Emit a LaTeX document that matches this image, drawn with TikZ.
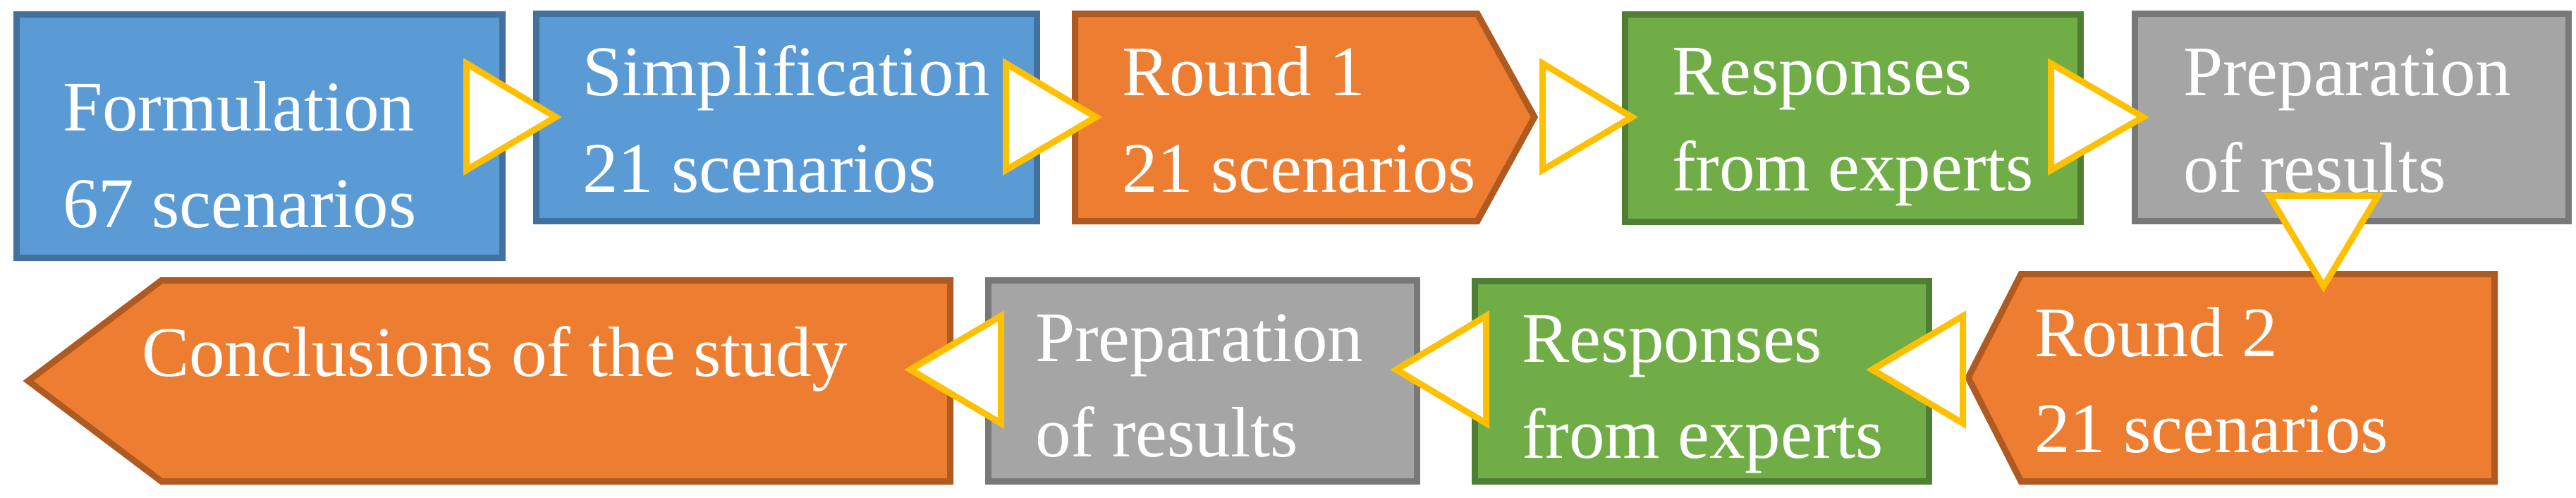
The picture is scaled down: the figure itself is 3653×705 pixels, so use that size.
\documentclass[tikz,border=0pt]{standalone}
\usepackage{fontspec}
\setmainfont{Liberation Serif}
\definecolor{bfill}{HTML}{5B9BD5}
\definecolor{bline}{HTML}{41719C}
\definecolor{ofill}{HTML}{ED7D31}
\definecolor{oline}{HTML}{AE5A21}
\definecolor{gfill}{HTML}{70AD47}
\definecolor{gline}{HTML}{507E32}
\definecolor{yfill}{HTML}{A5A5A5}
\definecolor{yline}{HTML}{787878}
\definecolor{arr}{HTML}{FFC000}
\tikzset{
  bluebox/.style={fill=bfill,draw=bline,line width=2.56pt,line join=miter},
  orangebox/.style={fill=ofill,draw=oline,line width=2.56pt,line join=miter},
  greenbox/.style={fill=gfill,draw=gline,line width=2.56pt,line join=miter},
  graybox/.style={fill=yfill,draw=yline,line width=2.56pt,line join=miter},
  tri/.style={fill=white,draw=arr,line width=2.56pt,line join=miter,miter limit=10},
  lbl/.style={anchor=base west,inner sep=0,outer sep=0,text=white,font=\fontsize{28.7}{38}\selectfont}
}
\begin{document}
\begin{tikzpicture}[x=0.01cm,y=-0.01cm]
\useasboundingbox (0,0) rectangle (3653,705);
% boxes
\draw[bluebox] (23.5,20.5) rectangle (712.5,365.5);
\draw[bluebox] (760.5,19.5) rectangle (1470.5,313.5);
\draw[orangebox] (1524.5,19.5) -- (2095,19.5) -- (2176,166) -- (2095,313.5) -- (1524.5,313.5) -- cycle;
\draw[greenbox] (2304.5,20.5) rectangle (2950.5,314.5);
\draw[graybox] (3027.5,19.5) rectangle (3642.5,313.5);
\draw[orangebox] (2791,535.5) -- (2866,388.5) -- (3537.5,388.5) -- (3537.5,682.5) -- (2866,682.5) -- cycle;
\draw[greenbox] (2091.5,398.5) rectangle (2735.5,682.5);
\draw[graybox] (1401.5,397.5) rectangle (2009.5,682.5);
\draw[orangebox] (40,540) -- (229,397.5) -- (1347.5,397.5) -- (1347.5,682.5) -- (229,682.5) -- cycle;
% texts
\node[lbl] (t1a) at (89,185) {Formulation};
\node[lbl] (t1b) at (89,322) {67 scenarios};
\node[lbl] (t2a) at (826,135) {Simplification};
\node[lbl] (t2b) at (826,272) {21 scenarios};
\node[lbl] (t3a) at (1591,135) {Round 1};
\node[lbl] (t3b) at (1591,272) {21 scenarios};
\node[lbl] (t4a) at (2371,134) {Responses};
\node[lbl] (t4b) at (2371,270) {from experts};
\node[lbl] (t5a) at (3096,135) {Preparation};
\node[lbl] (t5b) at (3096,272) {of results};
\node[lbl] (t6a) at (2885,505) {Round 2};
\node[lbl] (t6b) at (2885,641) {21 scenarios};
\node[lbl] (t7a) at (2158,513) {Responses};
\node[lbl] (t7b) at (2158,649) {from experts};
\node[lbl] (t8a) at (1468,512) {Preparation};
\node[lbl] (t8b) at (1468,647) {of results};
\node[lbl] (t9) at (201,533) {Conclusions of the study};
% arrows
\draw[tri] (661.5,90) -- (788,166) -- (661.5,241) -- cycle;
\draw[tri] (1426.5,90) -- (1554,166) -- (1426.5,241) -- cycle;
\draw[tri] (2187.5,90) -- (2314,166) -- (2187.5,241) -- cycle;
\draw[tri] (2908.5,90) -- (3039,166) -- (2908.5,241) -- cycle;
\draw[tri] (3218,277.5) -- (3372,277.5) -- (3295,406) -- cycle;
\draw[tri] (2783.5,448) -- (2655,524) -- (2783.5,600) -- cycle;
\draw[tri] (2107.5,448) -- (1980,524) -- (2107.5,600) -- cycle;
\draw[tri] (1419.5,448) -- (1291,524) -- (1419.5,600) -- cycle;
\end{tikzpicture}
\end{document}
